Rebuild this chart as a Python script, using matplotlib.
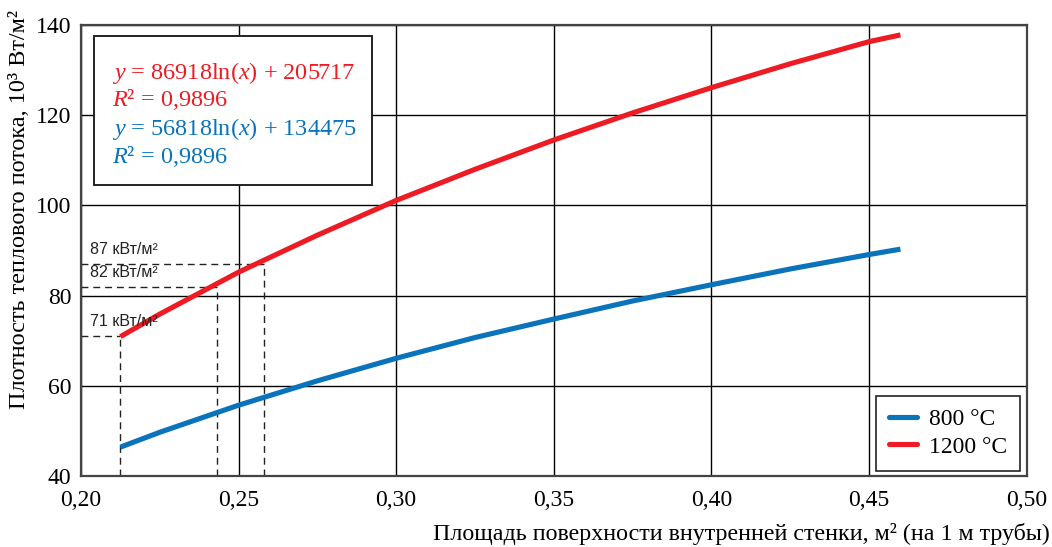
import matplotlib
matplotlib.use("Agg")
import matplotlib.pyplot as plt
from matplotlib.patches import Rectangle

# ---- data ----
area = [0.2125, 0.225, 0.25, 0.275, 0.30, 0.325, 0.35, 0.375, 0.40, 0.425, 0.45, 0.46]
flux_800 = [46.4, 49.7, 55.7, 61.1, 66.1, 70.7, 74.8, 78.8, 82.4, 85.9, 89.1, 90.3]
flux_1200 = [70.9, 75.9, 85.2, 93.4, 101.1, 108.0, 114.5, 120.5, 126.1, 131.4, 136.3, 137.8]

marker_x = [0.2125, 0.2433, 0.2580]
marker_y = [71, 82, 87]
marker_labels = ["71 кВт/м²", "82 кВт/м²", "87 кВт/м²"]

x_ticks = [0.20, 0.25, 0.30, 0.35, 0.40, 0.45, 0.50]
x_tick_labels = ["0,20", "0,25", "0,30", "0,35", "0,40", "0,45", "0,50"]
y_ticks = [40, 60, 80, 100, 120, 140]

series_labels = ["800 °C", "1200 °C"]
eq_red = "86918ln("
eq_blue = "56818ln("

RED = "#ED1C24"
BLUE = "#0A73BA"

plt.rcParams['mathtext.fontset'] = 'custom'
plt.rcParams['mathtext.rm'] = 'Liberation Serif'
plt.rcParams['mathtext.it'] = 'Liberation Serif:italic'
plt.rcParams['font.family'] = ['Liberation Serif', 'DejaVu Serif']

fig = plt.figure(figsize=(10.52, 5.47), dpi=100)
ax = fig.add_axes([81/1052, 1 - 476/547, (1026.5-81)/1052, (476-25)/547])

ax.set_xlim(0.20, 0.50)
ax.set_ylim(40, 140)
ax.set_xticks(x_ticks)
ax.set_xticklabels(x_tick_labels)
ax.set_yticks(y_ticks)
ax.tick_params(length=0, labelsize=17, pad=7)
ax.tick_params(axis='x', pad=10)
ax.grid(True, color='black', linewidth=1.0)
ax.set_axisbelow(True)
for s in ax.spines.values():
    s.set_linewidth(1.6)
    s.set_color('#444444')

l1, = ax.plot(area, flux_800, color=BLUE, lw=3.7, solid_capstyle='butt', label=series_labels[0], zorder=3)
l2, = ax.plot(area, flux_1200, color=RED, lw=3.7, solid_capstyle='butt', label=series_labels[1], zorder=3)

# dashed guide lines
for mx, my, lab in zip(marker_x, marker_y, marker_labels):
    ax.plot([0.20, mx], [my, my], color='#222222', lw=1, dashes=(5, 3.5), zorder=2)
    ax.plot([mx, mx], [40, my], color='#222222', lw=1, dashes=(5, 3.5), zorder=2)
    ax.text(0.2030, my + 1.5, lab, fontsize=11.5, family=['Liberation Sans', 'DejaVu Sans'],
            color='#222222', ha='left', va='bottom', zorder=4)

# equation box (in pixel-based figure coords)
box = Rectangle((94/1052, 1 - 185/547), (372-94)/1052, (185-36)/547, transform=fig.transFigure,
                facecolor='white', edgecolor='#222222', lw=1.4, zorder=5)
fig.patches.append(box)
tx = 112/1052
fs = 17.5
fig.text(tx, 1 - 79/547, r"$y$ = " + eq_red + r"$x$) + 205717", color=RED, fontsize=fs, va='baseline', zorder=6)
fig.text(tx, 1 - 106/547, r"$R$² = 0,9896", color=RED, fontsize=fs, va='baseline', zorder=6)
fig.text(tx, 1 - 135/547, r"$y$ = " + eq_blue + r"$x$) + 134475", color=BLUE, fontsize=fs, va='baseline', zorder=6)
fig.text(tx, 1 - 163/547, r"$R$² = 0,9896", color=BLUE, fontsize=fs, va='baseline', zorder=6)

leg = ax.legend(handles=[l1, l2], loc='lower right', bbox_to_anchor=(1020/1052, 1 - 470.5/547),
                bbox_transform=fig.transFigure, fontsize=17, frameon=True, fancybox=False,
                borderaxespad=0, handlelength=1.2, handletextpad=0.5, borderpad=0.55,
                labelspacing=0.25)
leg.get_frame().set_edgecolor('#222222')
leg.get_frame().set_linewidth(1.2)
leg.get_frame().set_facecolor('white')
leg.get_frame().set_alpha(1)
for h in leg.get_lines():
    h.set_solid_capstyle('round')

fig.text(20/1052, 1 - 10/547, "Плотность теплового потока, 10³ Вт/м²", rotation=90,
         ha='center', va='top', fontsize=17.5)
fig.text(1050/1052, 1 - 534/547, "Площадь поверхности внутренней стенки, м² (на 1 м трубы)",
         ha='right', va='center', fontsize=17.3)

fig.savefig("out.png", dpi=100)
